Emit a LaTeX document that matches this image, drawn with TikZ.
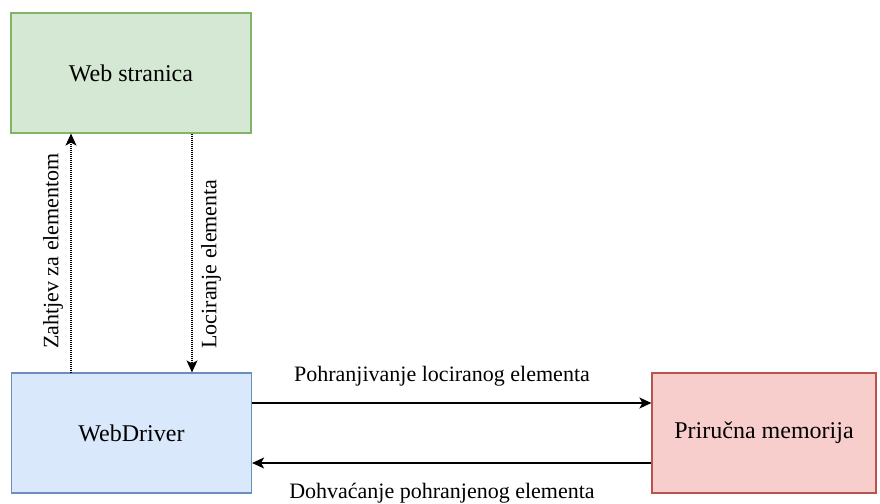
\documentclass[tikz,border=0pt]{standalone}
\usepackage{fontspec}
\setmainfont{Liberation Serif}
\usetikzlibrary{arrows.meta}
\usetikzlibrary{positioning}

\definecolor{webfill}{HTML}{D5E8D4}
\definecolor{webline}{HTML}{82B366}
\definecolor{drvfill}{HTML}{DAE8FC}
\definecolor{drvline}{HTML}{6C8EBF}
\definecolor{memfill}{HTML}{F8CECC}
\definecolor{memline}{HTML}{B85450}

\tikzset{
  box/.style={rectangle,draw,line width=0.6pt,minimum width=120pt,minimum height=60pt,font=\fontsize{12}{14}\selectfont,inner sep=0pt},
  conn/.style={line width=0.75pt,-{Stealth[length=6pt,width=5.5pt,inset=1.5pt]}},
  dots/.style={conn,line width=0.6pt,dash pattern=on 0.4pt off 0.6pt},
  lbl/.style={font=\fontsize{11}{13}\selectfont,inner sep=1pt}
}

\begin{document}
\begin{tikzpicture}[x=0.5pt,y=-0.5pt]
\useasboundingbox (0,0) rectangle (880,504);

\node[box,fill=webfill,draw=webline] (web) at (131,73) {Web stranica};
\node[box,fill=drvfill,draw=drvline] (drv) at (131.5,433) {WebDriver};
\node[box,fill=memfill,draw=memline,minimum width=112pt] (mem) at (764,433) {Priru\v{c}na memorija};

% vertikalne veze
\coordinate (a) at (71,0);
\coordinate (b) at (192,0);
\draw[dots] (drv.north -| a) -- (web.south -| a);
\draw[dots] (web.south -| b) -- (drv.north -| b);
\node[lbl,rotate=90] (zahtjev) at (53,251) {Zahtjev za elementom};
\node[lbl,rotate=90] (lociranje) at (211,264) {Lociranje elementa};

% horizontalne veze
\coordinate (c) at (0,403);
\coordinate (d) at (0,463);
\draw[conn] (drv.east |- c) -- (mem.west |- c);
\draw[conn] (mem.west |- d) -- (drv.east |- d);
\node[lbl] (pohrana) at (442,376) {Pohranjivanje lociranog elementa};
\node[lbl] (dohvat) at (442,493) {Dohva\'{c}anje pohranjenog elementa};

\end{tikzpicture}
\end{document}
